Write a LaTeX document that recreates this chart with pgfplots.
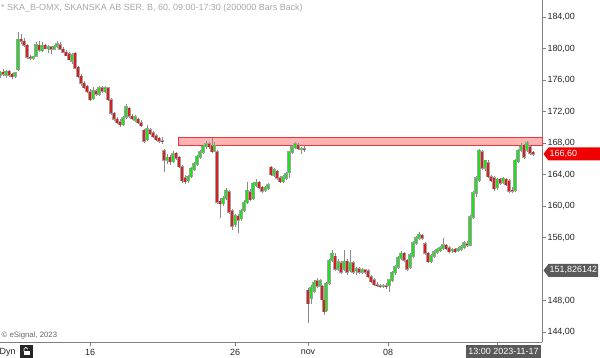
\documentclass[border=0pt]{standalone}
\usepackage{pgfplots}
\pgfplotsset{compat=1.18}
\usepackage{pgfplotstable}
\usepackage{fontspec}
\setmainfont{Liberation Sans}
\definecolor{upgreen}{HTML}{22DD22}
\definecolor{dnred}{HTML}{D92020}
\definecolor{wickgray}{HTML}{8A8A8A}
\definecolor{axgray}{HTML}{808080}
\definecolor{zonefill}{HTML}{FFB3B3}
\definecolor{zoneline}{HTML}{E83A3A}
\definecolor{boxgray}{HTML}{5A5A5A}
\definecolor{titlegray}{HTML}{A8A8A8}
\definecolor{pricered}{HTML}{F00000}

\pgfplotstableread{
x o h l c
0 176.6 177.2 176.3 177.0
3 177.0 177.4 176.5 176.7
6 176.6 177.3 176.3 177.1
9 177.1 177.3 176.4 176.6
12 176.7 176.9 176.1 176.4
15 176.5 177.0 176.3 176.9
18 177.3 182.1 177.2 181.2
21 181.2 181.8 180.6 180.9
24 180.9 181.3 180.2 180.4
27 180.4 180.6 178.7 178.9
30 178.9 179.2 178.5 178.8
33 178.8 179.1 178.6 179.0
36 179.0 180.8 178.9 180.5
39 180.4 180.9 179.5 179.8
42 179.7 180.8 179.6 180.4
45 180.4 180.6 179.9 180.0
48 180.0 180.4 179.4 180.2
51 180.2 180.3 179.3 179.9
54 179.9 180.5 179.8 180.3
57 180.3 180.9 180.1 180.6
60 180.5 180.8 179.8 179.9
63 179.9 180.2 179.4 179.5
66 179.5 179.8 179.0 179.1
69 179.3 179.6 178.5 178.6
72 178.4 179.4 178.0 179.2
75 179.4 179.6 177.4 177.5
78 177.6 177.8 176.2 176.4
81 176.5 176.7 175.3 175.6
84 175.6 175.9 174.9 175.0
87 175.2 175.4 174.4 174.5
90 174.5 174.8 173.3 173.5
93 173.6 175.1 173.5 174.6
96 174.6 174.9 174.0 174.2
99 174.2 175.2 174.0 175.0
102 175.0 175.2 174.4 174.6
105 174.5 175.3 174.3 175.0
108 175.0 175.1 173.3 173.5
111 173.5 173.7 171.6 171.8
114 171.8 172.0 170.8 171.0
117 171.0 171.3 170.4 170.6
120 170.7 171.0 170.0 170.3
123 170.3 171.4 170.1 171.2
126 171.3 172.9 171.1 172.6
129 172.4 172.6 171.2 171.4
132 171.4 171.7 170.9 171.1
135 170.9 171.5 170.7 171.3
138 171.0 171.2 170.4 170.6
141 170.6 170.9 170.0 170.2
144 169.6 169.8 168.0 168.2
147 168.4 170.3 168.2 169.8
150 169.7 169.9 169.0 169.2
153 169.3 169.5 168.6 168.8
156 168.9 169.2 168.2 168.4
159 168.6 168.8 168.0 168.2
162 168.3 168.7 167.9 168.2
164 167.0 167.2 164.3 165.8
167 165.8 166.6 165.3 166.2
170 166.2 166.5 165.2 165.6
173 165.6 167.0 165.4 166.6
176 166.7 166.9 165.9 166.1
179 166.2 166.4 164.8 165.0
182 165.0 165.2 162.9 163.2
185 163.6 163.9 162.8 163.1
188 163.2 164.0 162.9 163.8
191 163.7 165.0 163.5 164.8
194 164.6 165.6 164.4 165.4
197 165.3 166.5 165.1 166.3
200 166.2 167.1 166.0 166.9
203 166.8 167.8 166.6 167.6
206 167.5 168.2 167.3 167.9
209 167.9 168.1 167.2 167.5
212 167.6 168.6 166.7 166.9
214 167.0 168.1 166.8 167.7
217 166.9 167.1 160.3 160.5
220 160.6 161.0 158.5 160.3
223 160.3 161.3 160.0 161.0
226 160.9 162.3 160.7 162.0
229 161.8 162.0 159.0 159.2
232 159.4 159.6 157.0 157.4
235 157.6 159.0 157.3 158.8
238 158.7 159.0 156.6 158.2
241 158.4 159.6 158.1 159.4
244 159.4 160.7 159.2 160.5
247 160.4 163.0 160.2 162.0
250 161.8 162.1 160.6 160.8
253 160.9 163.1 160.7 162.9
256 162.6 163.4 162.4 163.0
259 163.0 163.2 162.1 162.3
262 162.4 162.6 161.7 161.9
265 162.0 162.6 161.8 162.4
268 162.2 162.9 162.0 162.7
271 164.9 165.1 163.8 164.0
274 163.9 164.8 163.7 164.6
277 164.4 164.6 163.3 163.5
280 163.6 163.8 162.9 163.1
283 163.1 163.9 162.9 163.7
286 163.5 164.3 163.3 164.1
289 164.2 167.0 163.6 166.9
292 166.8 167.7 166.6 167.5
295 167.4 168.1 167.2 167.9
298 167.8 168.0 167.1 167.3
301 167.2 167.5 166.6 167.3
304 167.3 167.6 166.9 167.2
308 149.3 149.6 145.1 147.6
311 148.3 150.0 147.6 149.7
314 149.2 150.6 148.9 150.3
317 150.5 150.9 149.6 149.8
320 149.8 150.7 149.4 150.5
322 149.8 150.0 147.9 148.1
324 148.1 148.3 146.2 146.6
326 146.7 150.4 146.5 150.2
329 150.2 153.3 150.0 153.1
332 153.1 154.4 152.9 154.0
335 153.6 154.0 151.7 152.0
338 152.0 153.3 151.8 152.9
341 152.8 153.0 151.4 151.6
344 152.0 154.4 151.8 153.0
347 153.0 153.3 151.3 151.6
350 151.8 154.4 151.6 152.8
353 152.8 153.0 151.4 151.6
356 151.8 152.2 151.3 152.0
359 152.0 152.2 151.4 151.6
362 151.6 152.1 151.4 151.9
365 151.9 152.0 151.4 151.6
368 151.8 152.0 150.8 151.0
371 151.0 151.2 150.2 150.4
374 150.6 150.8 149.8 150.0
377 150.0 150.3 149.7 149.9
380 149.9 150.1 149.6 149.8
383 149.8 150.1 149.6 149.9
386 149.9 150.2 149.5 149.8
389 149.9 150.7 149.1 150.6
392 150.5 151.8 150.3 151.6
395 151.5 152.5 151.3 152.3
398 152.2 153.7 152.0 153.5
401 153.4 154.3 153.2 154.0
404 154.0 154.2 152.9 153.1
407 153.1 153.3 151.7 152.0
410 152.2 154.0 152.0 153.8
413 153.6 155.5 153.4 155.3
416 155.3 156.2 155.1 156.0
419 155.9 156.7 155.7 156.4
422 156.3 156.4 155.7 155.9
425 155.2 155.4 153.8 154.0
428 154.0 154.2 152.7 152.9
431 152.9 153.9 152.7 153.7
434 153.6 154.4 153.4 154.2
437 154.1 154.7 153.9 154.5
440 154.3 154.9 154.1 154.7
443 154.6 155.9 154.4 155.1
446 155.0 155.2 154.4 154.6
449 154.7 154.9 154.0 154.2
452 154.3 154.7 154.0 154.5
455 154.5 154.7 154.0 154.2
458 154.3 154.8 154.1 154.6
461 154.5 155.0 154.3 154.8
464 154.7 155.5 154.5 155.3
467 155.2 155.5 154.8 155.0
470 155.0 158.8 154.9 158.6
473 158.6 161.9 158.4 161.7
476 161.6 163.8 161.2 163.6
479 163.3 167.3 163.1 167.1
482 166.9 167.1 164.6 164.8
485 164.8 165.9 164.5 165.8
488 165.5 165.8 163.5 163.7
491 163.7 164.0 163.0 163.2
494 163.6 163.8 161.9 162.2
497 162.3 163.6 162.0 163.4
500 163.4 163.6 162.7 162.9
503 163.0 163.7 162.8 163.5
506 163.4 163.6 162.5 162.7
509 163.2 163.4 161.7 161.9
512 162.0 162.4 161.6 161.9
515 162.0 166.0 161.8 165.8
518 165.6 167.3 165.4 167.1
521 167.1 168.0 166.9 167.6
524 167.7 167.9 166.0 166.2
527 167.1 168.3 166.9 168.0
530 167.5 167.8 166.5 166.7
533 166.8 167.0 166.4 166.6
}\candles

\begin{document}
\begin{tikzpicture}
\useasboundingbox (0,0) rectangle (600bp,358bp);
\begin{axis}[
  at={(0bp,16bp)}, anchor=south west,
  scale only axis, width=542bp, height=342bp,
  xmin=0, xmax=542, ymin=142.73, ymax=186.16,
  clip=false,
  axis x line*=bottom, axis y line*=right,
  axis line style={axgray, line width=1bp},
  tick style={axgray, line width=0.8bp},
  tick align=outside, major tick length=4bp,
  xtick={90,235,308,388,497},
  xticklabels={16,26,nov,08,{}},
  ytick={144,148,156,160,164,168,172,176,180,184},
  yticklabel style={font=\fontsize{9}{10}\selectfont, text=black!85, xshift=-2bp},
  xticklabel style={font=\fontsize{9}{10}\selectfont, text=black!85},
  /pgf/number format/.cd, fixed, fixed zerofill, precision=2, use comma, assume math mode=true,
]
% resistance zone
\fill[zonefill, draw=zoneline, line width=0.9bp] (axis cs:178,167.65) rectangle (axis cs:542,168.75);
% wicks
\addplot[draw=none, mark=none, forget plot,
  error bars/.cd, y dir=plus, y explicit, error mark=none,
  error bar style={draw=wickgray, line width=0.7bp}]
  table[x=x, y=l, y error expr=\thisrow{h}-\thisrow{l}] {\candles};
% gray body outlines
\addplot[draw=none, mark=none, forget plot,
  error bars/.cd, y dir=plus, y explicit, error mark=none,
  error bar style={draw=wickgray!80, line width=3.2bp}]
  table[x=x, y expr={min(\thisrow{o},\thisrow{c})-0.07}, y error expr={abs(\thisrow{c}-\thisrow{o})+0.14}] {\candles};
% up bodies
\addplot[draw=none, mark=none, forget plot,
  error bars/.cd, y dir=plus, y explicit, error mark=none,
  error bar style={draw=upgreen, line width=2bp}]
  table[x=x, y=o, y error expr={max(\thisrow{c}-\thisrow{o},0)}] {\candles};
% down bodies
\addplot[draw=none, mark=none, forget plot,
  error bars/.cd, y dir=plus, y explicit, error mark=none,
  error bar style={draw=dnred, line width=2bp}]
  table[x=x, y=c, y error expr={max(\thisrow{o}-\thisrow{c},0)}] {\candles};
\end{axis}
% price labels (166.60 -> y=204.0bp ; 151.826 -> y=87.6bp)
\fill[pricered] (543.5bp,204bp) -- (548.5bp,210.5bp) -- (600bp,210.5bp) -- (600bp,197.5bp) -- (548.5bp,197.5bp) -- cycle;
\node[anchor=west, text=white, font=\fontsize{9}{10}\selectfont, inner sep=0pt] at (549.5bp,204bp) {166,60};
\fill[boxgray] (543.5bp,87.6bp) -- (548.5bp,94.1bp) -- (598bp,94.1bp) -- (598bp,81.1bp) -- (548.5bp,81.1bp) -- cycle;
\node[anchor=west, text=white, font=\fontsize{9}{10}\selectfont, inner sep=0pt] at (549.5bp,87.6bp) {151,826142};
% title
\node[anchor=west, text=titlegray, font=\fontsize{9}{10}\selectfont, inner sep=0pt] at (1bp,350bp) {* SKA\_B-OMX, SKANSKA AB SER. B, 60, 09:00-17:30 (200000 Bars Back)};
% copyright
\node[anchor=west, text=black!60, font=\fontsize{7.8}{9}\selectfont, inner sep=0pt] at (1.5bp,23bp) {\textcopyright{} eSignal, 2023};
% Dyn + lock
\node[anchor=west, text=black!85, font=\fontsize{9}{10}\selectfont, inner sep=0pt] at (-0.5bp,6bp) {Dyn};
\fill[black!85] (20bp,0bp) rectangle (33bp,13bp);
\draw[white, line width=0.6bp] (24bp,6.5bp) -- (24bp,9bp) arc (180:0:1.8bp) -- (27.6bp,8.5bp);
\fill[white] (23.5bp,2.5bp) rectangle (29.5bp,6.5bp);
% time box
\fill[boxgray] (466bp,0bp) rectangle (541bp,13bp);
\node[anchor=center, text=white, font=\fontsize{9}{10}\selectfont, inner sep=0pt] at (503.5bp,6.5bp) {13:00 2023-11-17};
\end{tikzpicture}
\end{document}
